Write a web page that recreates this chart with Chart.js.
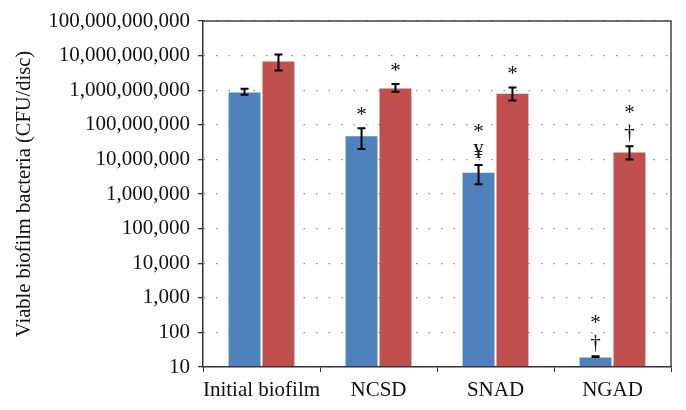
<!DOCTYPE html>
<html>
<head>
<meta charset="utf-8">
<script src="https://cdn.jsdelivr.net/npm/chart.js@4"></script>
<style>
  html, body { margin: 0; padding: 0; background: #fff; }
  #wrap { width: 686px; height: 410px; }
</style>
</head>
<body>
<div id="wrap"><canvas id="bioChart" width="686" height="410"></canvas></div>
<script>
var categories = ['Initial biofilm', 'NCSD', 'SNAD', 'NGAD'];
var blueValues = [9.2e8, 5e7, 4.4e6, 20];
var blueErrors = [1.8e8, 3e7, 2.5e6, 0.4];
var redValues = [7.2e9, 1.2e9, 8.5e8, 1.7e7];
var redErrors = [3.5e9, 3e8, 3.5e8, 7e6];
var blueMarks = [[], ['*'], ['¥', '*'], ['†', '*']];
var redMarks = [[], ['*'], ['*'], ['†', '*']];
var yTicks = [10, 100, 1e3, 1e4, 1e5, 1e6, 1e7, 1e8, 1e9, 1e10, 1e11];

var serif = '"Liberation Serif", "DejaVu Serif", serif';

// error bars + significance marks above each bar
var errorPlugin = {
  id: 'errorBars',
  afterDatasetsDraw: function (chart) {
    var ctx = chart.ctx;
    var y = chart.scales.y;
    var errs = [blueErrors, redErrors];
    var marks = [blueMarks, redMarks];
    ctx.save();
    chart.data.datasets.forEach(function (ds, di) {
      chart.getDatasetMeta(di).data.forEach(function (bar, i) {
        var v = ds.data[i];
        var top = y.getPixelForValue(v + errs[di][i]);
        var bot = y.getPixelForValue(Math.max(v - errs[di][i], 10));
        ctx.strokeStyle = '#000';
        ctx.lineWidth = 2;
        ctx.beginPath();
        ctx.moveTo(bar.x, top); ctx.lineTo(bar.x, bot);
        ctx.moveTo(bar.x - 4, top); ctx.lineTo(bar.x + 4, top);
        ctx.moveTo(bar.x - 4, bot); ctx.lineTo(bar.x + 4, bot);
        ctx.stroke();
        ctx.fillStyle = '#111';
        ctx.font = '21px ' + serif;
        ctx.textAlign = 'center';
        ctx.textBaseline = 'alphabetic';
        marks[di][i].forEach(function (m, k) {
          ctx.fillText(m, bar.x, top - 7 - k * 20);
        });
      });
    });
    ctx.restore();
  }
};

// frame on top and right of plot area
var framePlugin = {
  id: 'frame',
  afterDraw: function (chart) {
    var a = chart.chartArea;
    var ctx = chart.ctx;
    ctx.save();
    ctx.strokeStyle = '#444';
    ctx.lineWidth = 1.5;
    ctx.beginPath();
    ctx.moveTo(a.left, a.top); ctx.lineTo(a.right, a.top); ctx.lineTo(a.right, a.bottom);
    ctx.stroke();
    ctx.restore();
  }
};

var chartCtx = document.getElementById('bioChart').getContext('2d');
var bioChart = new Chart(chartCtx, {
  type: 'bar',
  data: {
    labels: categories,
    datasets: [
      {
        data: blueValues,
        backgroundColor: '#4f81bd',
        borderColor: 'rgba(255,255,255,0.2)',
        borderWidth: 1,
      },
      {
        data: redValues,
        backgroundColor: '#c0504d',
        borderColor: 'rgba(255,255,255,0.2)',
        borderWidth: 1,
      },
    ],
  },
  options: {
    responsive: false,
    animation: false,
    layout: { padding: { top: 21, right: 15, left: 0, bottom: 0 } },
    datasets: {
      bar: { categoryPercentage: 0.58, barPercentage: 1, base: 10 },
    },
    plugins: {
      legend: { display: false },
      tooltip: { enabled: false },
    },
    scales: {
      x: {
        grid: {
          offset: true,
          drawOnChartArea: false,
          tickLength: 5,
          tickColor: '#333',
        },
        border: { color: '#333', width: 1.5 },
        ticks: {
          color: '#111',
          padding: 6,
          maxRotation: 0,
          autoSkip: false,
          font: { family: serif, size: 21 },
        },
        afterFit: function (s) { s.height = 43; },
      },
      y: {
        type: 'logarithmic',
        min: 10,
        max: 1e11,
        afterBuildTicks: function (s) {
          s.ticks = yTicks.map(function (v) { return { value: v }; });
        },
        grid: {
          color: '#8a8a8a',
          lineWidth: 1.3,
          tickBorderDash: [],
          tickColor: '#333',
          tickLength: 5,
        },
        border: { color: '#333', width: 1.5, dash: [1.5, 11] },
        ticks: {
          color: '#111',
          padding: 8,
          autoSkip: false,
          font: { family: serif, size: 21 },
          callback: function (v) { return Number(v).toLocaleString('en-US'); },
        },
        title: {
          display: true,
          text: 'Viable biofilm bacteria (CFU/disc)',
          color: '#111',
          font: { family: serif, size: 20.5 },
          padding: { top: 12, bottom: 4 },
        },
        afterFit: function (s) { s.width = 203; },
      },
    },
  },
  plugins: [errorPlugin, framePlugin],
});
</script>
</body>
</html>
